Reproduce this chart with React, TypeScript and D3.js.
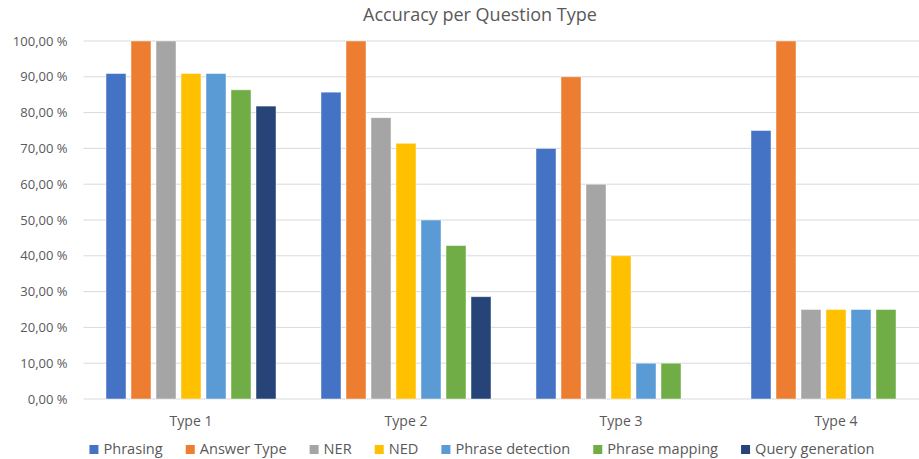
import React from "react";
import * as d3 from "d3";

const categories = ["Type 1", "Type 2", "Type 3", "Type 4"];
const seriesNames = ["Phrasing", "Answer Type", "NER", "NED", "Phrase detection", "Phrase mapping", "Query generation"];
const phrasing = [90.91, 85.71, 70, 75];
const answerType = [100, 100, 90, 100];
const ner = [100, 78.57, 60, 25];
const ned = [90.91, 71.43, 40, 25];
const phraseDetection = [90.91, 50, 10, 25];
const phraseMapping = [86.36, 42.86, 10, 25];
const queryGeneration = [81.82, 28.57, null, null];
const yTicks = [0, 10, 20, 30, 40, 50, 60, 70, 80, 90, 100];
const colors = ["#4472C4", "#ED7D31", "#A5A5A5", "#FFC000", "#5B9BD5", "#70AD47", "#264478"];

const seriesValues = [phrasing, answerType, ner, ned, phraseDetection, phraseMapping, queryGeneration];

const W = 919;
const H = 459;
const FONT = "'Open Sans', sans-serif";

function measure(text: string, font: string): number {
  const c = document.createElement("canvas");
  const ctx = c.getContext("2d");
  if (!ctx) return text.length * 7;
  ctx.font = font;
  return ctx.measureText(text).width;
}

export default function App() {
  const plotLeft = 83.5;
  const plotRight = 943.5;
  const plotTop = 41;
  const plotBottom = 399;

  const x0 = d3.scaleBand<string>().domain(categories).range([plotLeft, plotRight]).paddingInner(0).paddingOuter(0);
  const groupW = 175;
  const x1 = d3.scaleBand<string>().domain(seriesNames).range([0, groupW]).paddingInner(0.2).paddingOuter(0.1);
  const y = d3.scaleLinear().domain([0, 100]).range([plotBottom, plotTop]);
  const fmt = (v: number) => d3.format(".2f")(v).replace(".", ",") + " %";

  const legendSize = 14.6;
  const legendFont = `${legendSize}px ${FONT}`;
  const sq = 9;
  const sqGap = 5;
  const itemGap = 23;
  const widths = seriesNames.map((n) => measure(n, legendFont));
  const total = widths.reduce((a, w) => a + sq + sqGap + w, 0) + itemGap * (seriesNames.length - 1);
  let lx = 482 - total / 2;
  const legendItems = seriesNames.map((n, i) => {
    const item = { name: n, x: lx, color: colors[i] };
    lx += sq + sqGap + widths[i] + itemGap;
    return item;
  });

  return (
    <svg width={W} height={H} style={{ position: "absolute", left: 0, top: 0, background: "#fff" }} fontFamily={FONT}>
      <rect width={W} height={H} fill="#fff" />
      <text x={480} y={21} textAnchor="middle" fontSize={18} fill="#595959">Accuracy per Question Type</text>
      {yTicks.map((t) => (
        <g key={t}>
          <line x1={plotLeft} x2={W} y1={y(t)} y2={y(t)} stroke="#d9d9d9" strokeWidth={1} />
          <text x={67.5} y={y(t)} dy="0.35em" textAnchor="end" fontSize={13} fill="#595959">{fmt(t)}</text>
        </g>
      ))}
      {categories.map((c, ci) => {
        const gx = (x0(c) as number) + (x0.bandwidth() - groupW) / 2;
        return (
          <g key={c}>
            {seriesNames.map((s, si) => {
              const v = seriesValues[si][ci];
              if (v === null || v === undefined) return null;
              const bx = gx + (x1(s) as number);
              return (
                <rect key={s} x={bx} y={y(v)} width={x1.bandwidth()} height={y(0) - y(v)} fill={colors[si]} stroke="#fff" strokeOpacity={0.6} strokeWidth={0.75} />
              );
            })}
            <text x={(x0(c) as number) + x0.bandwidth() / 2} y={426} textAnchor="middle" fontSize={14} fill="#595959">{c}</text>
          </g>
        );
      })}
      {legendItems.map((it) => (
        <g key={it.name}>
          <rect x={it.x} y={445} width={sq} height={sq} fill={it.color} />
          <text x={it.x + sq + sqGap} y={454} fontSize={legendSize} fill="#595959">{it.name}</text>
        </g>
      ))}
    </svg>
  );
}
